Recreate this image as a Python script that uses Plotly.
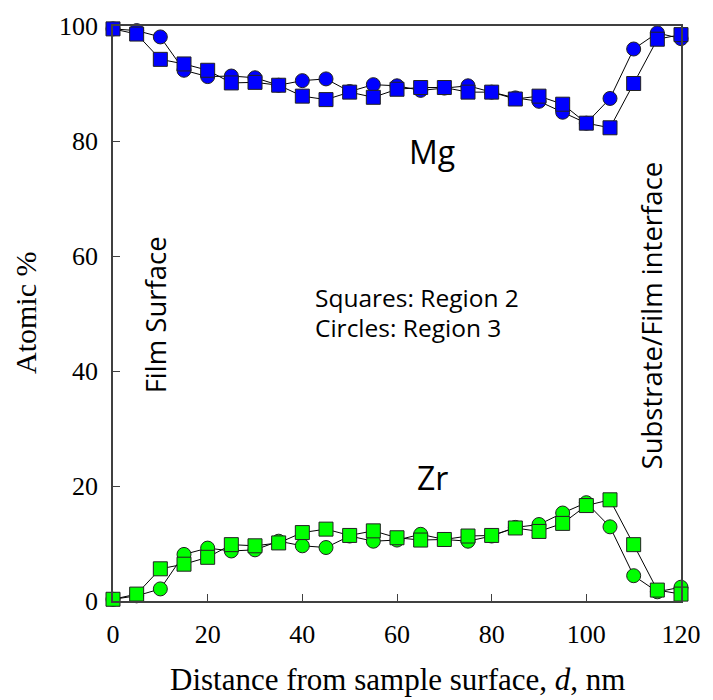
import plotly.graph_objects as go

# Depth positions (nm) of the sputter profile points
depth = [0, 5, 10, 15, 20, 25, 30, 35, 40, 45, 50, 55, 60,
         65, 70, 75, 80, 85, 90, 95, 100, 105, 110, 115, 120]

# Region 2 (squares)
mg_region2 = [99.5, 98.6, 94.2, 93.4, 92.3, 90.1, 90.2, 89.7, 87.8, 87.2, 88.5, 87.6, 89.0,
              89.3, 89.3, 88.5, 88.5, 87.3, 87.8, 86.4, 83.1, 82.3, 90.0, 97.7, 98.5]
zr_region2 = [0.3, 1.2, 5.6, 6.4, 7.6, 9.8, 9.6, 10.1, 11.9, 12.5, 11.4, 12.2, 11.0,
              10.6, 10.7, 11.3, 11.4, 12.7, 12.1, 13.5, 16.6, 17.6, 9.8, 1.9, 1.2]

# Region 3 (circles)
mg_region3 = [99.5, 99.2, 98.1, 92.3, 91.2, 91.3, 91.0, 89.7, 90.5, 90.8, 88.6, 89.8, 89.6,
              88.8, 89.2, 89.6, 88.5, 87.5, 86.9, 85.0, 83.1, 87.4, 96.0, 98.8, 97.8]
zr_region3 = [0.3, 0.9, 2.1, 8.1, 9.2, 8.7, 8.9, 10.4, 9.6, 9.3, 11.3, 10.4, 10.6,
              11.6, 10.7, 10.4, 11.3, 12.8, 13.3, 15.3, 17.1, 12.9, 4.4, 1.6, 2.4]

BLUE = "#0000ff"
GREEN = "#00ff00"
SERIF = "Liberation Serif"
SANS = "Open Sans"

fig = go.Figure()


def add_series(y, color, symbol):
    fig.add_trace(go.Scatter(
        x=depth, y=y, mode="lines+markers",
        line=dict(color="black", width=1),
        marker=dict(symbol=symbol, size=14, color=color,
                    line=dict(color="#222222", width=1)),
        showlegend=False, cliponaxis=False,
    ))


add_series(mg_region3, BLUE, "circle")
add_series(mg_region2, BLUE, "square")
add_series(zr_region3, GREEN, "circle")
add_series(zr_region2, GREEN, "square")

axis_common = dict(
    showgrid=False, zeroline=False,
    showline=True, linecolor="#404040", linewidth=1.5,
    mirror=True, ticks="inside", ticklen=7, tickwidth=1.3, tickcolor="#404040",
    tickfont=dict(family=SERIF, size=26, color="black"),
)

fig.update_xaxes(range=[0, 120], tickvals=[0, 20, 40, 60, 80, 100, 120],
                 ticklabelstandoff=9, **axis_common)
fig.update_yaxes(range=[0, 100], tickvals=[0, 20, 40, 60, 80, 100],
                 ticklabelstandoff=8, **axis_common)

annotations = [
    dict(text="Mg", x=67.4, y=78.1, font=dict(family=SANS, size=32)),
    dict(text="Zr", x=67.4, y=21.4, font=dict(family=SANS, size=32)),
    dict(text="Squares: Region 2", x=42.2, y=52.7, xanchor="left",
         font=dict(family=SANS, size=24.5)),
    dict(text="Circles: Region 3", x=42.2, y=47.5, xanchor="left",
         font=dict(family=SANS, size=24.5)),
    dict(text="Film Surface", x=8.9, y=49.7, textangle=-90,
         font=dict(family=SANS, size=27.5)),
    dict(text="Substrate/Film interface", x=113.7, y=49.7, textangle=-90,
         font=dict(family=SANS, size=27.5)),
    dict(text="Distance from sample surface, <i>d</i>, nm", xref="paper", yref="paper",
         x=0.5, y=-0.137, yanchor="middle", font=dict(family=SERIF, size=31)),
    dict(text="Atomic %", xref="paper", yref="paper", x=-0.154, y=0.5,
         xanchor="center", yanchor="middle", textangle=-90,
         font=dict(family=SERIF, size=30)),
]
for a in annotations:
    a.setdefault("xref", "x")
    a.setdefault("yref", "y")
    a.setdefault("showarrow", False)
    a["font"].setdefault("color", "black")
fig.update_layout(annotations=annotations)

fig.update_layout(
    width=713, height=700,
    margin=dict(l=113, r=23, t=26, b=99),
    plot_bgcolor="white", paper_bgcolor="white",
)

fig.write_html("out.html")
